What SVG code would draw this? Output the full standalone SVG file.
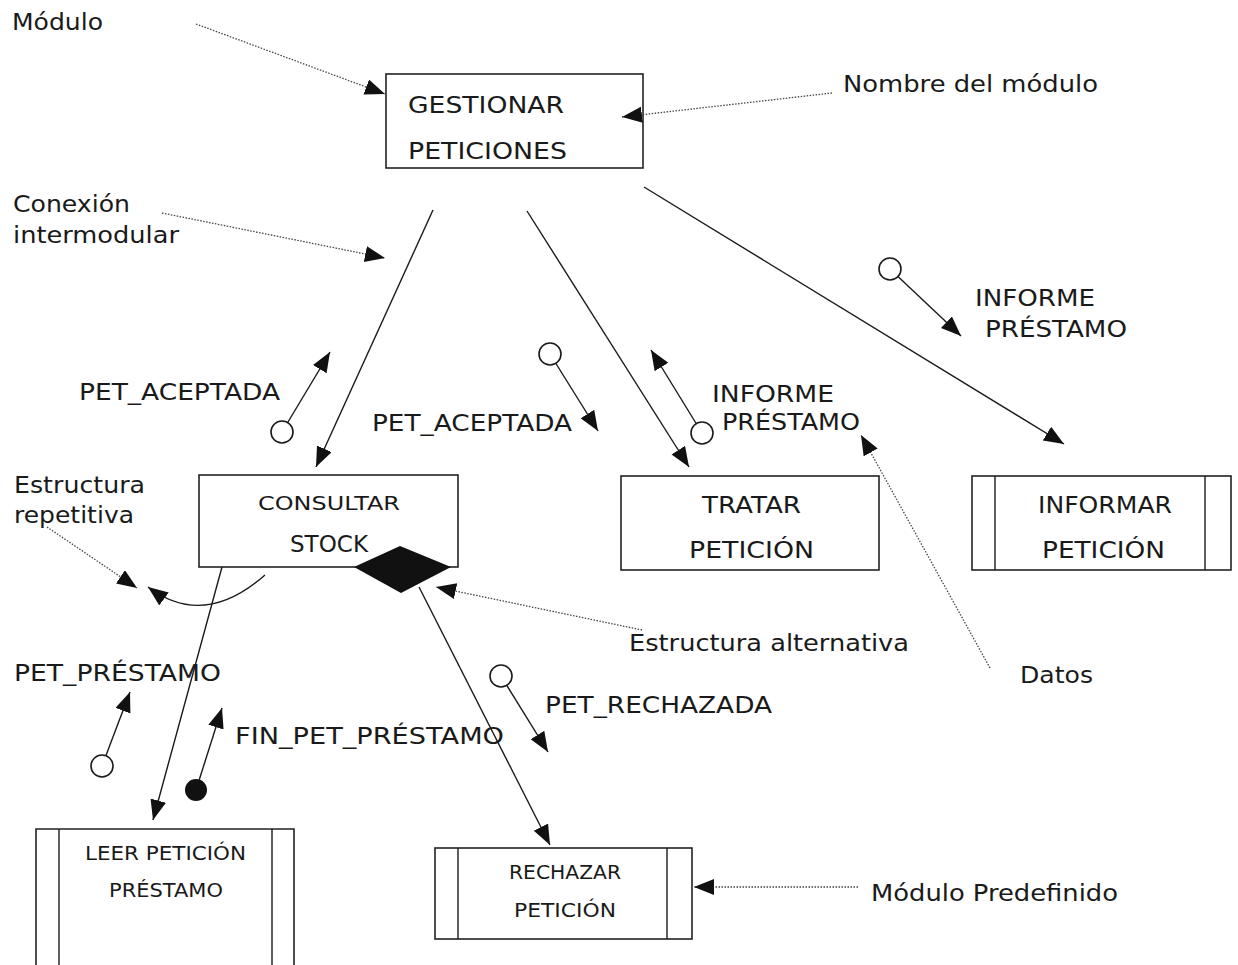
<svg xmlns="http://www.w3.org/2000/svg" width="1238" height="965" viewBox="0 0 1238 965">
  <style>
    text { font-family: "DejaVu Sans", Verdana, "Liberation Sans", sans-serif; fill: #1a1a1a; }
    .lg { font-size: 23px; }
    .sm { font-size: 19px; }
    .box { fill: #fff; stroke: #222; stroke-width: 1.6; }
    .edge { fill: none; stroke: #1a1a1a; stroke-width: 1.4; }
    .note { fill: none; stroke: #444; stroke-width: 1.3; stroke-dasharray: 1.5 1.5; }
    .couple { fill: #fff; stroke: #1a1a1a; stroke-width: 1.6; }
  </style>
  <defs>
    <marker id="arr" markerUnits="userSpaceOnUse" markerWidth="22" markerHeight="18" refX="20" refY="8" orient="auto">
      <path d="M0,0 L20,8 L0,16 z" fill="#111"/>
    </marker>
  </defs>
  <rect width="1238" height="965" fill="#fff"/>

  <!-- modules -->
  <g id="gestionar">
    <rect class="box" x="386" y="74" width="257" height="94"/>
    <text class="lg" x="408" y="113" textLength="156" lengthAdjust="spacingAndGlyphs">GESTIONAR</text>
    <text class="lg" x="408" y="159" textLength="159" lengthAdjust="spacingAndGlyphs">PETICIONES</text>
  </g>
  <g id="consultar">
    <rect class="box" x="199" y="475" width="259" height="92"/>
    <text class="sm" x="258" y="510" textLength="142" lengthAdjust="spacingAndGlyphs">CONSULTAR</text>
    <text class="lg" x="290" y="552" textLength="78" lengthAdjust="spacingAndGlyphs">STOCK</text>
    <path d="M354,567 L400,546 L451,567 L401,593 z" fill="#111"/>
  </g>
  <g id="tratar">
    <rect class="box" x="621" y="476" width="258" height="94"/>
    <text class="lg" x="702" y="513" textLength="99" lengthAdjust="spacingAndGlyphs">TRATAR</text>
    <text class="lg" x="689" y="558" textLength="125" lengthAdjust="spacingAndGlyphs">PETICIÓN</text>
  </g>
  <g id="informar">
    <rect class="box" x="972" y="476" width="259" height="94"/>
    <line class="edge" x1="995" y1="476" x2="995" y2="570"/>
    <line class="edge" x1="1205" y1="476" x2="1205" y2="570"/>
    <text class="lg" x="1038" y="513" textLength="134" lengthAdjust="spacingAndGlyphs">INFORMAR</text>
    <text class="lg" x="1042" y="558" textLength="123" lengthAdjust="spacingAndGlyphs">PETICIÓN</text>
  </g>
  <g id="leer">
    <path class="box" d="M36,975 L36,829 L294,829 L294,975"/>
    <line class="edge" x1="59" y1="829" x2="59" y2="975"/>
    <line class="edge" x1="272" y1="829" x2="272" y2="975"/>
    <text class="sm" x="85" y="860" textLength="161" lengthAdjust="spacingAndGlyphs">LEER PETICIÓN</text>
    <text class="sm" x="109" y="897" textLength="114" lengthAdjust="spacingAndGlyphs">PRÉSTAMO</text>
  </g>
  <g id="rechazar">
    <rect class="box" x="435" y="848" width="257" height="91"/>
    <line class="edge" x1="458" y1="848" x2="458" y2="939"/>
    <line class="edge" x1="667" y1="848" x2="667" y2="939"/>
    <text class="sm" x="509" y="879" textLength="112" lengthAdjust="spacingAndGlyphs">RECHAZAR</text>
    <text class="sm" x="514" y="917" textLength="102" lengthAdjust="spacingAndGlyphs">PETICIÓN</text>
  </g>

  <!-- intermodular connections -->
  <g id="connectors">
    <line class="edge" x1="433" y1="210" x2="316" y2="467" marker-end="url(#arr)"/>
    <line class="edge" x1="527" y1="211" x2="689" y2="467" marker-end="url(#arr)"/>
    <line class="edge" x1="644" y1="187" x2="1064" y2="444" marker-end="url(#arr)"/>
    <line class="edge" x1="222" y1="567" x2="153" y2="820" marker-end="url(#arr)"/>
    <line class="edge" x1="419" y1="587" x2="550" y2="845" marker-end="url(#arr)"/>
    <!-- repetition arc -->
    <path class="edge" d="M265,575 Q204,629 148,587" marker-end="url(#arr)"/>
  </g>

  <!-- data couples -->
  <g id="couples">
    <line class="edge" x1="282" y1="432" x2="330" y2="352" marker-end="url(#arr)"/>
    <circle class="couple" cx="282" cy="432" r="11"/>
    <line class="edge" x1="550" y1="354" x2="598" y2="431" marker-end="url(#arr)"/>
    <circle class="couple" cx="550" cy="354" r="11"/>
    <line class="edge" x1="702" y1="433" x2="651" y2="350" marker-end="url(#arr)"/>
    <circle class="couple" cx="702" cy="433" r="11"/>
    <line class="edge" x1="890" y1="269" x2="961" y2="336" marker-end="url(#arr)"/>
    <circle class="couple" cx="890" cy="269" r="11"/>
    <line class="edge" x1="102" y1="766" x2="130" y2="692" marker-end="url(#arr)"/>
    <circle class="couple" cx="102" cy="766" r="11"/>
    <line class="edge" x1="196" y1="790" x2="222" y2="708" marker-end="url(#arr)"/>
    <circle cx="196" cy="790" r="11" fill="#111"/>
    <line class="edge" x1="501" y1="676" x2="548" y2="752" marker-end="url(#arr)"/>
    <circle class="couple" cx="501" cy="676" r="11"/>
  </g>

  <!-- couple labels -->
  <g id="couple-labels">
    <text class="lg" x="79" y="400" textLength="201" lengthAdjust="spacingAndGlyphs">PET_ACEPTADA</text>
    <text class="lg" x="372" y="431" textLength="200" lengthAdjust="spacingAndGlyphs">PET_ACEPTADA</text>
    <text class="lg" x="712" y="402" textLength="122" lengthAdjust="spacingAndGlyphs">INFORME</text>
    <text class="lg" x="722" y="430" textLength="138" lengthAdjust="spacingAndGlyphs">PRÉSTAMO</text>
    <text class="lg" x="975" y="306" textLength="120" lengthAdjust="spacingAndGlyphs">INFORME</text>
    <text class="lg" x="985" y="337" textLength="142" lengthAdjust="spacingAndGlyphs">PRÉSTAMO</text>
    <text class="lg" x="14" y="681" textLength="207" lengthAdjust="spacingAndGlyphs">PET_PRÉSTAMO</text>
    <text class="lg" x="235" y="744" textLength="269" lengthAdjust="spacingAndGlyphs">FIN_PET_PRÉSTAMO</text>
    <text class="lg" x="545" y="713" textLength="227" lengthAdjust="spacingAndGlyphs">PET_RECHAZADA</text>
  </g>

  <!-- legend notes -->
  <g id="notes">
    <line class="note" x1="196" y1="24" x2="385" y2="94" marker-end="url(#arr)"/>
    <line class="note" x1="832" y1="93" x2="622" y2="117" marker-end="url(#arr)"/>
    <line class="note" x1="162" y1="213" x2="385" y2="258" marker-end="url(#arr)"/>
    <line class="note" x1="47" y1="527" x2="137" y2="588" marker-end="url(#arr)"/>
    <line class="note" x1="642" y1="630" x2="436" y2="587" marker-end="url(#arr)"/>
    <line class="note" x1="990" y1="668" x2="861" y2="435" marker-end="url(#arr)"/>
    <line class="note" x1="858" y1="887" x2="694" y2="887" marker-end="url(#arr)"/>
    <text class="lg" x="12" y="30" textLength="91" lengthAdjust="spacingAndGlyphs">Módulo</text>
    <text class="lg" x="843" y="92" textLength="255" lengthAdjust="spacingAndGlyphs">Nombre del módulo</text>
    <text class="lg" x="13" y="212" textLength="117" lengthAdjust="spacingAndGlyphs">Conexión</text>
    <text class="lg" x="13" y="243" textLength="166" lengthAdjust="spacingAndGlyphs">intermodular</text>
    <text class="lg" x="14" y="493" textLength="131" lengthAdjust="spacingAndGlyphs">Estructura</text>
    <text class="lg" x="14" y="523" textLength="120" lengthAdjust="spacingAndGlyphs">repetitiva</text>
    <text class="lg" x="629" y="651" textLength="280" lengthAdjust="spacingAndGlyphs">Estructura alternativa</text>
    <text class="lg" x="1020" y="683" textLength="73" lengthAdjust="spacingAndGlyphs">Datos</text>
    <text class="lg" x="871" y="901" textLength="247" lengthAdjust="spacingAndGlyphs">Módulo Predefinido</text>
  </g>
</svg>
